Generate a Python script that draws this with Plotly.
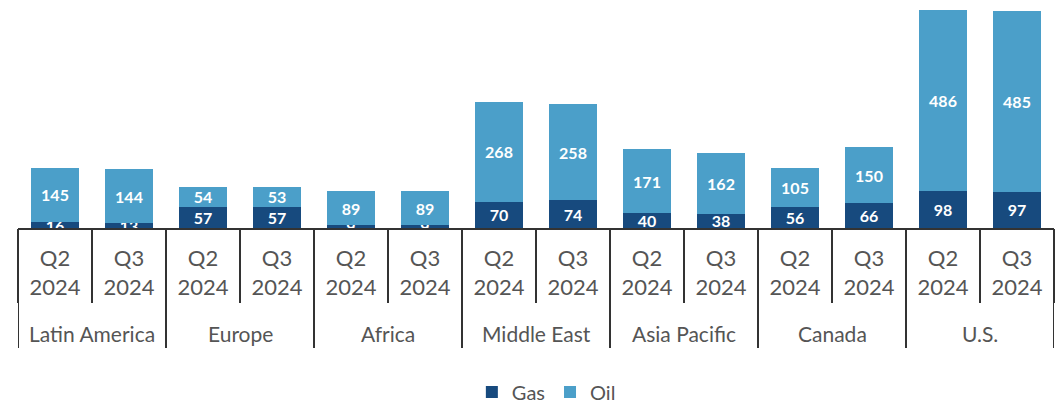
import plotly.graph_objects as go

regions = ["Latin America", "Europe", "Africa", "Middle East", "Asia Pacific", "Canada", "U.S."]
quarters = ["Q2<br>2024", "Q3<br>2024"]
gas = [16, 13, 57, 57, 9, 9, 70, 74, 40, 38, 56, 66, 98, 97]
oil = [145, 144, 54, 53, 89, 89, 268, 258, 171, 162, 105, 150, 486, 485]

n_q = len(quarters)
n = len(regions) * n_q
xs = list(range(n))
tick_text = [quarters[i % n_q] for i in xs]

GAS = "#174a7e"
OIL = "#4b9fc9"
LINE = "#333333"
TXT = "#555555"
FONT = "Lato"

FIG_H = 404
TOP = 10
AXIS = 228
H_PLOT = AXIS - TOP

def py(px_below_axis):
    return -px_below_axis / H_PLOT

fig = go.Figure()
for name, vals, col in (("Gas", gas, GAS), ("Oil", oil, OIL)):
    fig.add_trace(go.Bar(
        x=xs, y=vals, name=name, marker_color=col, marker_line_width=0,
        width=0.66,
        text=[str(v) for v in vals], textposition="inside", insidetextanchor="middle",
        textfont=dict(color="white", size=16, family=FONT, weight="bold"), textangle=0,
    ))

# invisible trace on second x axis to carry boundary ticks
fig.add_trace(go.Scatter(x=[xs[0], xs[-1]], y=[0, 0], xaxis="x2", mode="markers",
                         marker=dict(opacity=0), showlegend=False, hoverinfo="skip"))

shapes = []
for g in range(len(regions) + 1):
    xb = g * n_q - 0.5
    shapes.append(dict(type="line", xref="x", yref="paper", x0=xb, x1=xb,
                       y0=0, y1=py(120), line=dict(color=LINE, width=2)))
annotations = []
for g, r in enumerate(regions):
    annotations.append(dict(text=r, xref="x", yref="paper", x=g * n_q + (n_q - 1) / 2,
                            y=py(105), showarrow=False, yanchor="middle",
                            font=dict(size=21, color=TXT, family=FONT)))

fig.update_layout(
    barmode="stack",
    width=1057, height=FIG_H,
    margin=dict(l=18, r=3, t=TOP, b=FIG_H - AXIS),
    plot_bgcolor="white", paper_bgcolor="white",
    font=dict(family=FONT, color=TXT, size=21),
    uniformtext=dict(minsize=16, mode="show"),
    showlegend=True,
    legend=dict(orientation="h", x=0.51, xanchor="center",
                yref="container", y=(FIG_H - 392) / FIG_H, yanchor="middle",
                font=dict(size=20, color=TXT), traceorder="normal",
                itemwidth=30, tracegroupgap=0),
    xaxis=dict(
        range=[-0.5, n - 0.5], tickmode="array", tickvals=xs, ticktext=tick_text,
        showline=True, linecolor=LINE, linewidth=2, ticks="", showgrid=False,
        zeroline=False, automargin=False, ticklabelstandoff=10,
        tickfont=dict(size=22, color=TXT),
    ),
    xaxis2=dict(
        overlaying="x", matches="x", side="bottom", range=[-0.5, n - 0.5],
        tickmode="array", tickvals=[i - 0.5 for i in range(n + 1)],
        showticklabels=False, ticks="outside", ticklen=74, tickcolor=LINE, tickwidth=2,
        showgrid=False, zeroline=False, showline=False, automargin=False,
    ),
    yaxis=dict(visible=False, range=[0, 584], automargin=False),
    shapes=shapes,
    annotations=annotations,
)

fig.write_html(
    "out.html",
    config={"displayModeBar": False},
    post_script=(
        "var s=document.createElement('style');"
        "s.textContent='html,body{margin:0;padding:0;overflow:hidden;}';"
        "document.head.appendChild(s);"
    ),
)
